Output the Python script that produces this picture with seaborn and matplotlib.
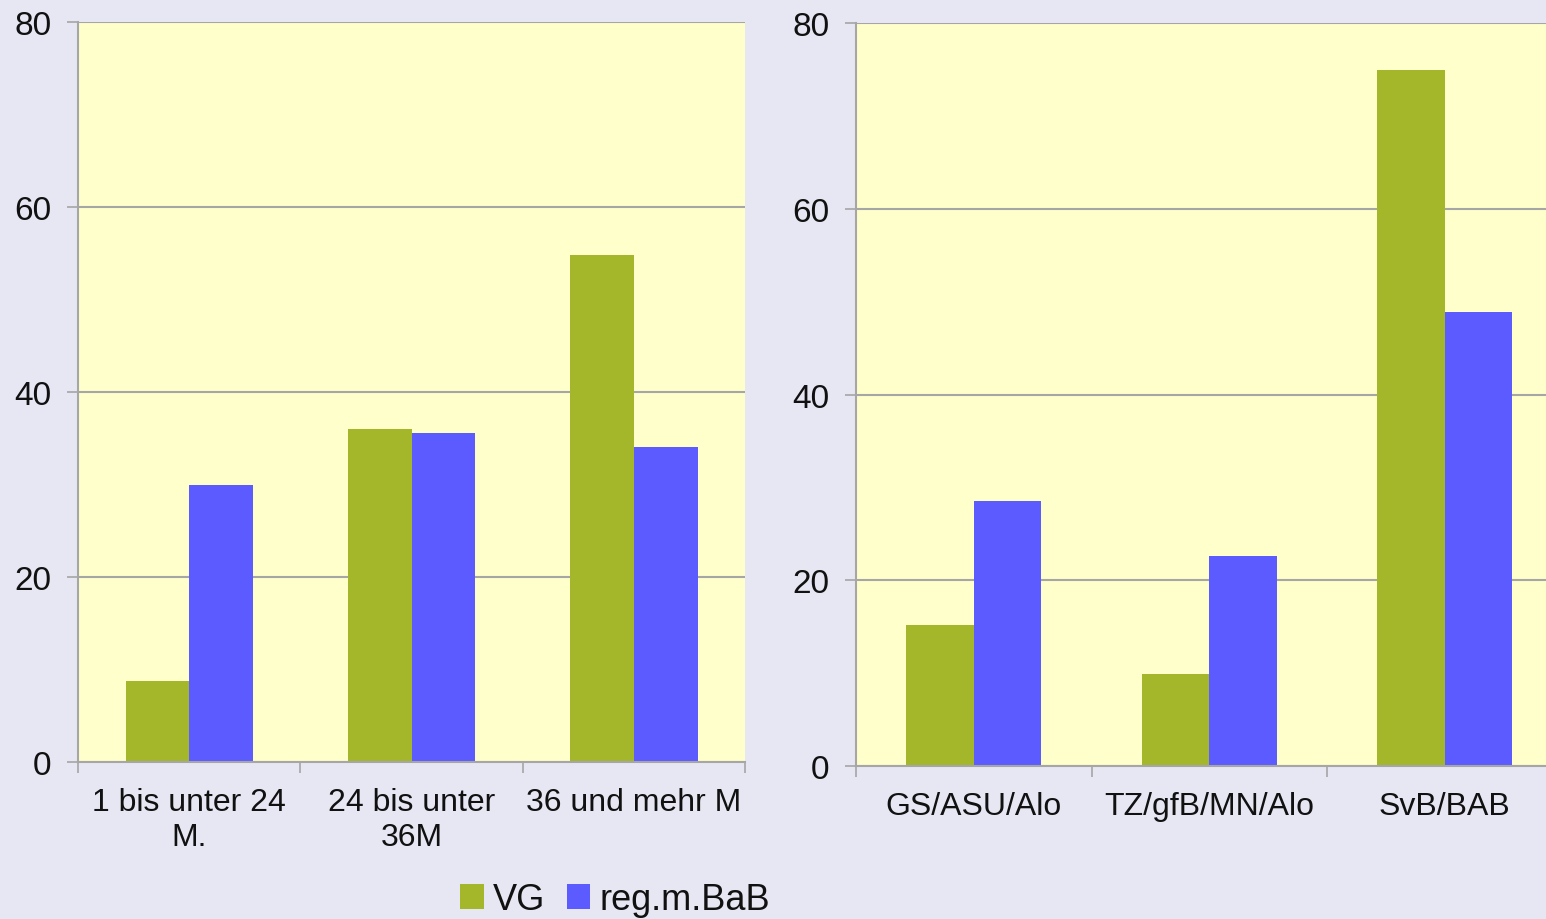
import matplotlib
matplotlib.use("Agg")
import matplotlib.pyplot as plt
from matplotlib.patches import Patch
import seaborn as sns
import pandas as pd

# Data
series = ["VG", "reg.m.BaB"]
left_categories = ["1 bis unter 24 M.", "24 bis unter 36M", "36 und mehr M"]
left_ticklabels = ["1 bis unter 24\nM.", "24 bis unter\n36M", "36 und mehr M"]
left_vg = [8.8, 36.0, 54.8]
left_bab = [29.9, 35.6, 34.0]

right_categories = ["GS/ASU/Alo", "TZ/gfB/MN/Alo", "SvB/BAB"]
right_ticklabels = ["GS/ASU/Alo", "TZ/gfB/MN/Alo", "SvB/BAB"]
right_vg = [15.2, 9.9, 74.9]
right_bab = [28.5, 22.6, 48.9]

yticks = [0, 20, 40, 60, 80]

BG = "#E6E7F3"
PANEL = "#FFFFCC"
GREEN = "#A4B62A"
BLUE = "#5B5BFF"
GRID = "#A6A6A6"
TEXT = "#111111"

sns.set_theme(style="white")
plt.rcParams["font.family"] = ["Liberation Sans", "DejaVu Sans"]


def long_frame(cats, vg, bab):
    rows = []
    for c, a, b in zip(cats, vg, bab):
        rows.append({"cat": c, "series": series[0], "val": a})
        rows.append({"cat": c, "series": series[1], "val": b})
    return pd.DataFrame(rows)


fig = plt.figure(figsize=(15.46, 9.2), dpi=100, facecolor=BG)
ax_l = fig.add_axes([0.0505, 0.1707, 0.4314, 0.8043])
ax_r = fig.add_axes([0.5537, 0.1663, 0.4570, 0.8076])

panels = [
    (ax_l, left_categories, left_ticklabels, left_vg, left_bab),
    (ax_r, right_categories, right_ticklabels, right_vg, right_bab),
]

for ax, cats, labels, vg, bab in panels:
    df = long_frame(cats, vg, bab)
    sns.barplot(data=df, x="cat", y="val", hue="series", order=cats,
                hue_order=series, palette=[GREEN, BLUE], saturation=1,
                width=0.573, gap=0, legend=False, ax=ax, linewidth=0)
    ax.set_facecolor(PANEL)
    ax.set_xlim(-0.5, 2.5)
    ax.set_ylim(0, 80)
    ax.set_yticks(yticks)
    ax.set_yticklabels([str(v) for v in yticks], fontsize=24, color=TEXT)
    ax.set_xticks(range(len(cats)))
    ax.set_xticklabels(labels, fontsize=23, color=TEXT, linespacing=1.2)
    ax.set_xticks([-0.5, 0.5, 1.5, 2.5], minor=True)
    ax.tick_params(axis="x", which="major", length=0, pad=18)
    ax.tick_params(axis="x", which="minor", length=8, width=1.2, color=GRID,
                   direction="out", bottom=True)
    ax.tick_params(axis="y", length=8, width=1.2, color=GRID, direction="out",
                   left=True, pad=11)
    ax.set_xlabel("")
    ax.set_ylabel("")
    ax.yaxis.grid(True, color=GRID, linewidth=1.5)
    ax.set_axisbelow(True)
    for side in ("top", "right"):
        ax.spines[side].set_visible(False)
    for side in ("left", "bottom"):
        ax.spines[side].set_color(GRID)
        ax.spines[side].set_linewidth(1.5)

handles = [Patch(facecolor=GREEN, edgecolor="none"),
           Patch(facecolor=BLUE, edgecolor="none")]
fig.legend(handles, series, loc="center", bbox_to_anchor=(0.398, 0.021),
           ncol=2, frameon=False, fontsize=26, labelcolor=TEXT,
           handlelength=0.65, handleheight=0.65, handletextpad=0.25,
           columnspacing=0.6, borderpad=0)

fig.savefig("out.png", dpi=100, facecolor=BG)
